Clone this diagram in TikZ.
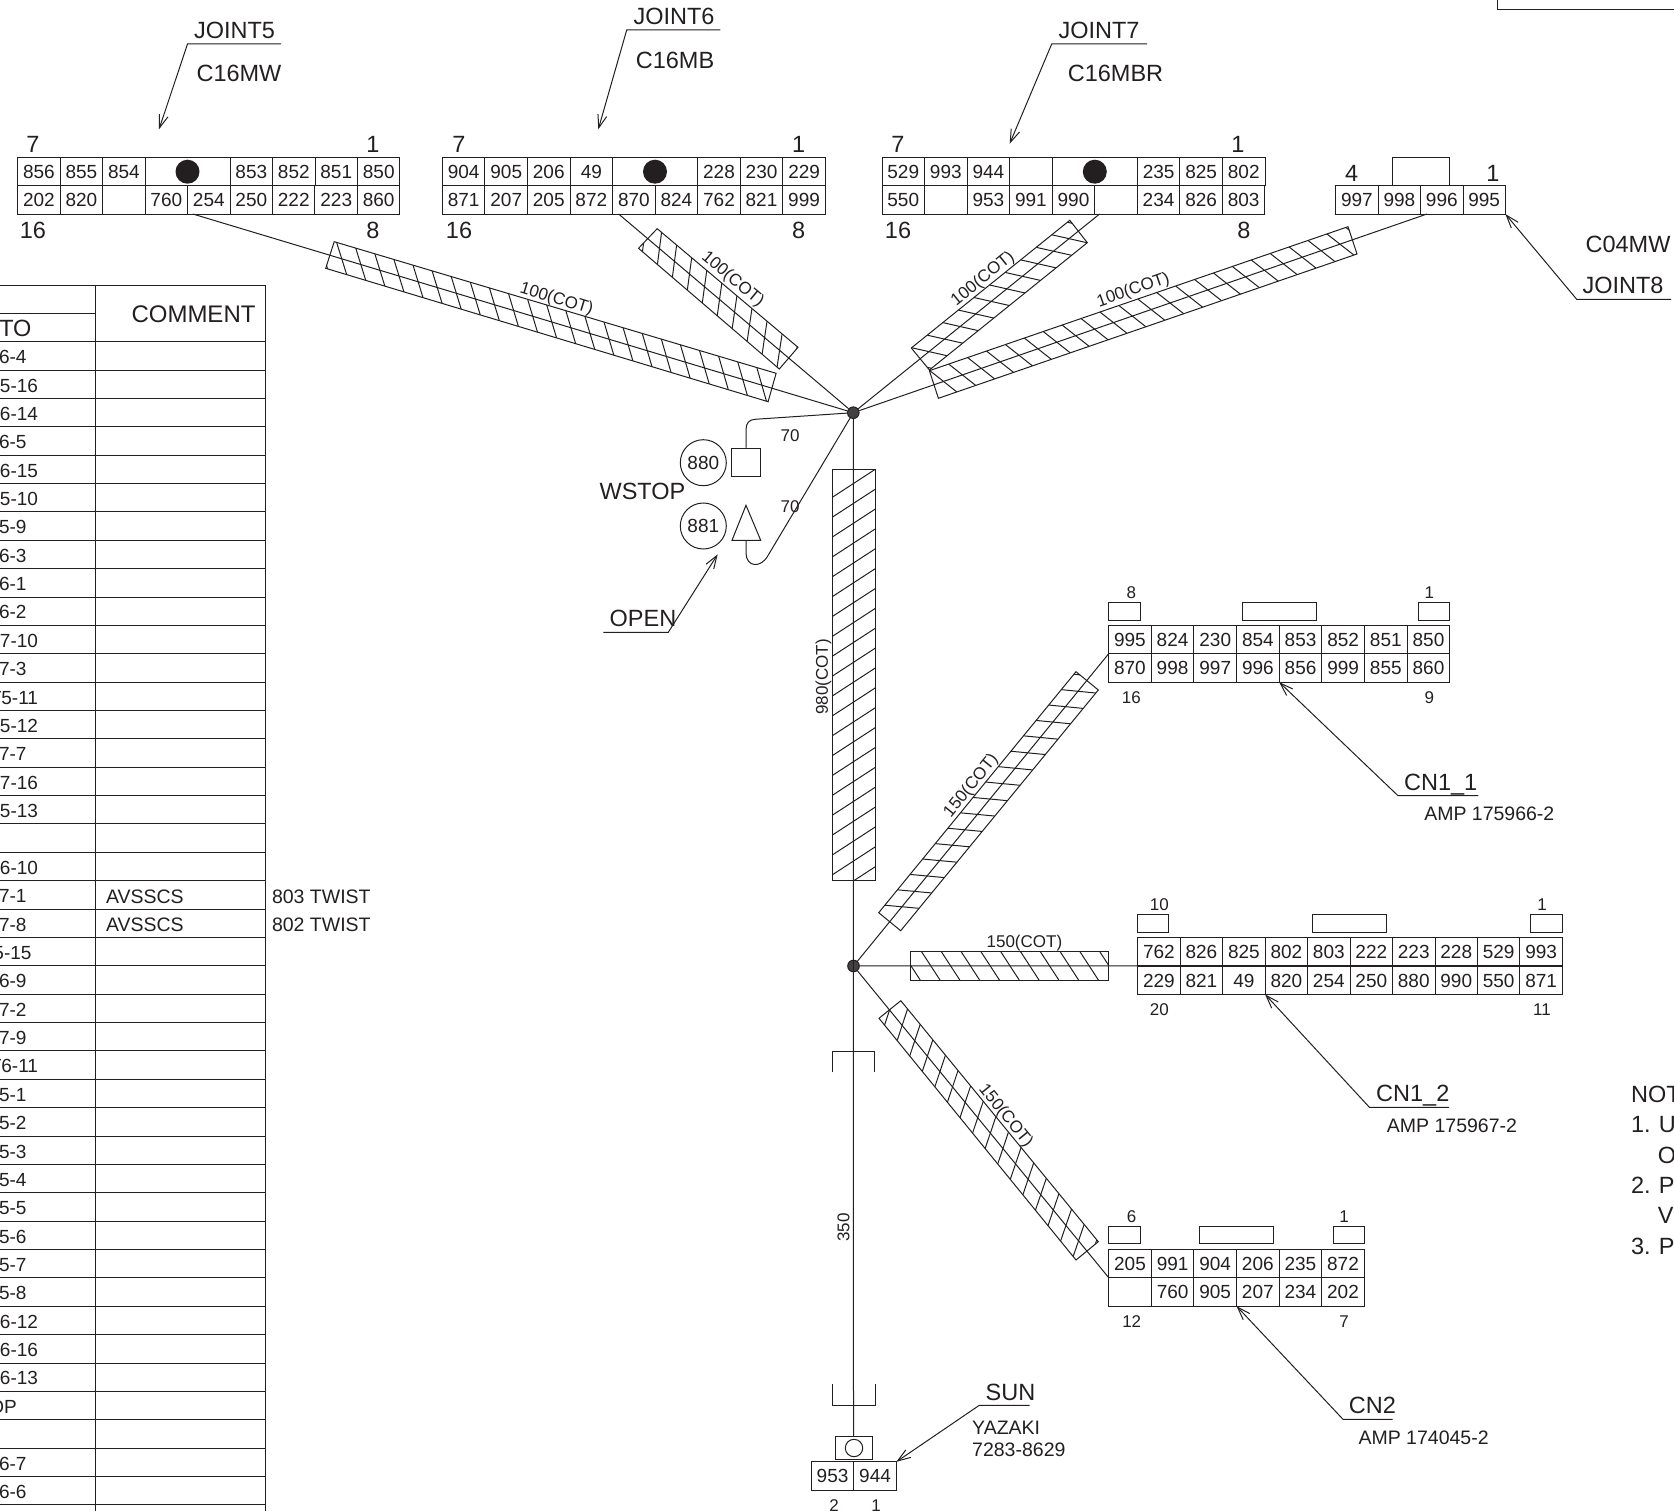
\documentclass[tikz,border=0pt]{standalone}
\usepackage{fontspec}
\setmainfont{Liberation Sans}
\usetikzlibrary{arrows.meta,calc}
\definecolor{inkline}{HTML}{231F20}
\tikzset{>={Straight Barb[length=13pt,width=9pt]}}
\tikzset{
  small/.style={inner sep=0pt,text height=12.2pt,text depth=0pt,font=\fontsize{17}{19}\selectfont},
  plain/.style={inner sep=0pt,text height=13.7pt,text depth=0pt,font=\fontsize{19}{21}\selectfont},
  part/.style={inner sep=0pt,text height=14pt,text depth=0pt,font=\fontsize{19.5}{21}\selectfont},
  title/.style={inner sep=0pt,text height=16.9pt,text depth=0pt,font=\fontsize{23.5}{25}\selectfont},
  cell/.style={plain,draw,outer sep=0pt,minimum height=28.35pt},
  hub/.style={circle,draw,fill=inkline!85,inner sep=0pt,minimum size=11.6pt}
}
\newcommand\connrow[5]{% prefix, left edge, centre y, width, texts
  \foreach \t [count=\k] in {#5}
    \node[cell,minimum width=#4 pt] (#1\k) at ({#2+(\k-0.5)*#4},#3) {\t};
}
\newcommand\sleeve[8]{% corners, last index, offset, step, skew
  \draw (#1)--(#2)--(#3)--(#4)--cycle;
  \begin{scope}
    \clip (#1)--(#2)--(#3)--(#4)--cycle;
    \foreach \i in {0,...,#5}
      \draw ($(#1)!{#6pt+\i*#7pt}!(#4)$) -- ($(#2)!{#6pt+\i*#7pt+(#8pt)}!(#3)$);
  \end{scope}
}
\begin{document}
\begin{tikzpicture}[x=1pt,y=-1pt,line width=1pt,color=inkline]
  \useasboundingbox (0,0) rectangle (1674,1511);

  \draw (1497,0) -- (1497,10) -- (1674,10);

  % table
  \draw (95.7,285.3) -- (95.7,1511);
  \draw (265.7,285.3) -- (265.7,1511);
  \draw (0,285.3) -- (265.7,285.3);
  \draw (0,313.3) -- (95.7,313.3);
  \foreach \r in {0,...,41}
    \draw (0,{341.7+\r*28.37}) -- (265.7,{341.7+\r*28.37});
  \node[title,anchor=east] (tabto) at (32,328.5) {TO};
  \node[title,font=\fontsize{24}{26}\selectfont] (tabcomment) at (193.5,314.5) {COMMENT};
  \foreach \r/\t/\e in {1/6-4/27,2/T5-16/38.5,3/T6-14/38.5,4/6-5/27,5/T6-15/38.5,6/T5-10/38.5,
    7/5-9/27,8/6-3/27,9/6-1/27,10/6-2/27,11/T7-10/38.5,12/7-3/27,13/T5-11/38.5,14/T5-12/38.5,
    15/7-7/27,16/T7-16/38.5,17/T5-13/38.5,19/T6-10/38.5,20/7-1/27,21/7-8/27,22/5-15/32,
    23/6-9/27,24/7-2/27,25/7-9/27,26/T6-11/38.5,27/5-1/27,28/5-2/27,29/5-3/27,30/5-4/27,
    31/5-5/27,32/5-6/27,33/5-7/27,34/5-8/27,35/T6-12/38.5,36/T6-16/38.5,37/T6-13/38.5,
    38/OP/17.3,40/6-7/27,41/6-6/27}
    \node[plain,anchor=east] (row\r) at (\e,{342.6+(\r-0.5)*28.37}) {\t};
  \node[part,anchor=west] (avs1) at (105.5,896) {AVSSCS};
  \node[part,anchor=west] (avs2) at (105.5,924.4) {AVSSCS};
  \node[part,anchor=west] (tw1) at (271.5,896) {803 TWIST};
  \node[part,anchor=west] (tw2) at (271.5,924.4) {802 TWIST};

  % JOINT5
  \connrow{j5t}{17.7}{171.5}{42.47}{856,855,854}
  \node[cell,minimum width=84.94pt] (j5gap) at (187.6,171.5) {};
  \connrow{j5r}{230.1}{171.5}{42.47}{853,852,851,850}
  \connrow{j5b}{17.7}{199.9}{42.47}{202,820,{},760,254,250,222,223,860}
  \fill (187.5,171.7) circle (12);
  \node[title] (j5n7) at (33,144) {7};
  \node[title] (j5n1) at (373,144) {1};
  \node[title] (j5n16) at (33,230) {16};
  \node[title] (j5n8) at (373,230) {8};
  \node[title] (j5name) at (234.5,30) {JOINT5};
  \node[title] (j5type) at (239,73.3) {C16MW};
  \coordinate (j5k) at (187.5,44);
  \coordinate (j5p) at (159,129.3);
  \draw[->] (281,44) -- (j5k) -- (j5p);

  % JOINT6
  \connrow{j6t}{442.4}{171.5}{42.55}{904,905,206,49}
  \node[cell,minimum width=85.1pt] (j6gap) at (655,171.5) {};
  \connrow{j6r}{697.75}{171.5}{42.55}{228,230,229}
  \connrow{j6b}{442.4}{199.9}{42.55}{871,207,205,872,870,824,762,821,999}
  \fill (655,171.7) circle (12);
  \node[title] (j6n7) at (459,144) {7};
  \node[title] (j6n1) at (798.6,144) {1};
  \node[title] (j6n16) at (459,230) {16};
  \node[title] (j6n8) at (798.6,230) {8};
  \node[title] (j6name) at (674,16) {JOINT6};
  \node[title] (j6type) at (675,60) {C16MB};
  \coordinate (j6k) at (626.7,30);
  \coordinate (j6p) at (598.3,129.3);
  \draw[->] (720.4,30) -- (j6k) -- (j6p);

  % JOINT7
  \connrow{j7t}{882}{171.5}{42.55}{529,993,944,{}}
  \node[cell,minimum width=85.1pt] (j7gap) at (1094.8,171.5) {};
  \connrow{j7r}{1137.35}{171.5}{42.55}{235,825,802}
  \connrow{j7b}{882}{199.9}{42.55}{550,{},953,991,990,{},234,826,803}
  \fill (1094.8,171.7) circle (12);
  \node[title] (j7n7) at (898,144) {7};
  \node[title] (j7n1) at (1238,144) {1};
  \node[title] (j7n16) at (898,230) {16};
  \node[title] (j7n8) at (1244,230) {8};
  \node[title] (j7name) at (1099,30) {JOINT7};
  \node[title] (j7type) at (1115.5,73.3) {C16MBR};
  \coordinate (j7k) at (1051.7,44);
  \coordinate (j7p) at (1009.7,143.7);
  \draw[->] (1147,44) -- (j7k) -- (j7p);

  % JOINT8
  \connrow{j8b}{1335.7}{199.9}{42.43}{997,998,996,995}
  \draw (1392.6,185.7) -- (1392.6,157.3) -- (1449.6,157.3) -- (1449.6,185.7);
  \node[title] (j8n4) at (1351.7,172.7) {4};
  \node[title] (j8n1) at (1493,172.7) {1};
  \node[title] (j8type) at (1628,244) {C04MW};
  \node[title] (j8name) at (1623,285) {JOINT8};
  \coordinate (j8k) at (1576.7,299.3);
  \draw[->] (1671,299.3) -- (j8k) -- (j8b4.south east);

  % hubs and wires
  \node[hub] (huba) at (853.3,412.7) {};
  \node[hub] (hubb) at (853.5,966) {};
  \coordinate (j5w) at (192.8,214);
  \coordinate (j6w) at (618.6,214);
  \coordinate (j7w) at (1099.6,214);
  \coordinate (j8w) at (1427,214);
  \draw (j5w) -- (huba);
  \draw (j6w) -- (huba);
  \draw (j7w) -- (huba);
  \draw (j8w) -- (huba);

  \coordinate (j5a) at (334.2,241.7);
  \coordinate (j5b) at (325.7,268.3);
  \coordinate (j5c) at (768.1,401.7);
  \coordinate (j5d) at (776.1,373.3);
  \sleeve{j5a}{j5b}{j5c}{j5d}{23}{-17.4}{19.93}{19.4}
  \coordinate (j6a) at (657.2,228.7);
  \coordinate (j6b) at (638.5,248.3);
  \coordinate (j6c) at (779.3,369);
  \coordinate (j6d) at (798,347.3);
  \sleeve{j6a}{j6b}{j6c}{j6d}{10}{-14}{19.7}{19.2}
  \coordinate (j7a) at (1069.8,220.3);
  \coordinate (j7b) at (1087.3,242.7);
  \coordinate (j7c) at (929.4,370);
  \coordinate (j7d) at (911.3,348);
  \sleeve{j7a}{j7b}{j7c}{j7d}{11}{3.1}{20}{-23}
  \coordinate (j8a) at (1348,226.7);
  \coordinate (j8b) at (1357,254);
  \coordinate (j8c) at (938.4,398.3);
  \coordinate (j8d) at (929.4,370.7);
  \sleeve{j8a}{j8b}{j8c}{j8d}{23}{2.3}{20}{-19}

  \node[small,rotate=-17] (j5cot) at (557,297.7) {100(COT)};
  \node[small,rotate=-40] (j6cot) at (733.8,278.3) {100(COT)};
  \node[small,rotate=39] (j7cot) at (982,277.5) {100(COT)};
  \node[small,rotate=19] (j8cot) at (1132.8,289) {100(COT)};

  % switches
  \node[plain,circle,draw,minimum size=46pt] (sw880) at (703.3,462.7) {880};
  \node[plain,circle,draw,minimum size=46pt] (sw881) at (703.3,526) {881};
  \node[draw,minimum size=28.5pt,inner sep=0pt] (swbox) at (746.2,462.5) {};
  \draw (746,505.3) -- (760.7,540.3) -- (732,540.3) -- cycle;
  \coordinate (swkink) at (768.3,555);
  \draw (swbox.north) -- (746,430) .. controls (746,423) and (749,419.7) .. (755,419.3) -- (huba);
  \draw (746,540.3) -- (746,553) .. controls (746,567) and (761,569) .. (swkink) -- (huba);
  \node[small] (sw70a) at (790,435) {70};
  \node[small] (sw70b) at (790,506) {70};
  \node[title] (wstop) at (642.5,491) {WSTOP};
  \node[title] (open) at (643,618.3) {OPEN};
  \coordinate (openk) at (668.3,632.3);
  \coordinate (openp) at (717.7,554.3);
  \draw[->] (603.3,632.3) -- (openk) -- (openp);

  % trunk
  \coordinate (suntop) at (853.5,1436.7);
  \draw (huba) -- (suntop);
  \coordinate (trka) at (875.3,469.3);
  \coordinate (trkb) at (832.3,469.3);
  \coordinate (trkc) at (832.3,880);
  \coordinate (trkd) at (875.3,880);
  \sleeve{trka}{trkb}{trkc}{trkd}{20}{0}{19.87}{28}
  \node[small,rotate=90] (trkcot) at (821.7,677) {980(COT)};
  \draw (832.4,1072.3) -- (832.4,1051) -- (874.8,1051) -- (874.8,1072.3);
  \draw (832.3,1384) -- (832.3,1405.3) -- (875.3,1405.3) -- (875.3,1384);
  \node[small,rotate=90] (trk350) at (843.3,1227.7) {350};

  % SUN
  \draw (835.3,1436.7) rectangle (872.3,1459);
  \draw (854,1448) circle (8.7);
  \connrow{sunc}{811.3}{1476}{42.5}{953,944}
  \node[small] (sunn2) at (834,1505) {2};
  \node[small] (sunn1) at (876,1505) {1};
  \node[title] (sunname) at (1010.5,1391.7) {SUN};
  \node[part,anchor=west] (sunmake) at (971.7,1427.3) {YAZAKI};
  \node[part,anchor=west] (sunpart) at (971.7,1449.3) {7283-8629};
  \coordinate (sunk) at (979.3,1405.3);
  \draw[->] (1029.7,1405.3) -- (sunk) -- (sunc2.north east);

  % CN1_1
  \connrow{cat}{1108.6}{639.6}{42.65}{995,824,230,854,853,852,851,850}
  \connrow{cab}{1108.6}{668}{42.65}{870,998,997,996,856,999,855,860}
  \draw (1108.6,602.3) rectangle (1140.3,620);
  \draw (1242,602.3) rectangle (1316,620);
  \draw (1418,602.3) rectangle (1449.7,620);
  \node[small] (can8) at (1131.4,592) {8};
  \node[small] (can1) at (1429.3,592) {1};
  \node[small] (can16) at (1131.4,697.3) {16};
  \node[small] (can9) at (1429.3,697.3) {9};
  \node[title] (caname) at (1440.7,781.7) {CN1\_1};
  \node[part] (capart) at (1489.3,813.3) {AMP 175966-2};
  \coordinate (cak) at (1398,795.7);
  \draw[->] (1478.3,795.7) -- (cak) -- (cab4.south east);
  \draw (hubb) -- (cab1.north west);
  \coordinate (caa) at (1076,671.7);
  \coordinate (cbb) at (1098.3,690);
  \coordinate (ccc) at (900.7,930.7);
  \coordinate (cdd) at (878.7,912.7);
  \sleeve{caa}{cbb}{ccc}{cdd}{15}{3.3}{19.9}{-19.3}
  \node[small,rotate=51] (cacot) at (970,785) {150(COT)};

  % CN1_2
  \connrow{cbt}{1137.7}{951.6}{42.47}{762,826,825,802,803,222,223,228,529,993}
  \connrow{cbbot}{1137.7}{980.2}{42.47}{229,821,49,820,254,250,880,990,550,871}
  \draw (1137.7,914.3) rectangle (1168.4,932.3);
  \draw (1312.8,914.3) rectangle (1386.9,932.3);
  \draw (1530.8,914.3) rectangle (1562.4,932.3);
  \node[small] (cbn10) at (1159.4,904.3) {10};
  \node[small] (cbn1) at (1542,904.3) {1};
  \node[small] (cbn20) at (1159.4,1009) {20};
  \node[small] (cbn11) at (1542,1009) {11};
  \node[title] (cbname) at (1412.8,1093.3) {CN1\_2};
  \node[part] (cbpart) at (1452,1125.7) {AMP 175967-2};
  \coordinate (cbk) at (1369.4,1107.3);
  \draw[->] (1449.2,1107.3) -- (cbk) -- (cbbot3.south east);
  \draw (hubb) -- (cbt1.south west);
  \coordinate (hsa) at (910.2,951);
  \coordinate (hsb) at (910.2,980);
  \coordinate (hsc) at (1108.9,980);
  \coordinate (hsd) at (1108.9,951);
  \sleeve{hsa}{hsb}{hsc}{hsd}{11}{-8.9}{19.8}{18.9}
  \node[small] (cbcot) at (1024.4,941.3) {150(COT)};

  % CN2
  \connrow{cct}{1108.7}{1263.5}{42.6}{205,991,904,206,235,872}
  \connrow{ccbot}{1108.7}{1291.9}{42.6}{{},760,905,207,234,202}
  \draw (1108.7,1226.7) rectangle (1140.3,1243.5);
  \draw (1199.5,1226.7) rectangle (1273.7,1243.5);
  \draw (1333,1226.7) rectangle (1364.4,1243.5);
  \node[small] (ccn6) at (1131.7,1216) {6};
  \node[small] (ccn1) at (1344,1216) {1};
  \node[small] (ccn12) at (1131.7,1321) {12};
  \node[small] (ccn7) at (1344,1321) {7};
  \node[title] (ccname) at (1372.4,1405) {CN2};
  \node[part] (ccpart) at (1423.6,1437.3) {AMP 174045-2};
  \coordinate (cck) at (1343,1419.3);
  \draw[->] (1392.5,1419.3) -- (cck) -- (ccbot3.south east);
  \draw (hubb) -- (cct1.south west);
  \coordinate (lsa) at (900.8,1000.7);
  \coordinate (lsb) at (879,1018.3);
  \coordinate (lsc) at (1076,1260);
  \coordinate (lsd) at (1098.3,1241.7);
  \sleeve{lsa}{lsb}{lsc}{lsd}{16}{-9.2}{19.9}{18}
  \node[small,rotate=-51] (cccot) at (1007,1115) {150(COT)};

  % notes
  \node[title,anchor=west] (notes) at (1630.6,1094) {NOT};
  \node[title,anchor=west] (note1) at (1630.6,1124.3) {1.};
  \node[title,anchor=west] (note1a) at (1658.4,1124.3) {U};
  \node[title,anchor=west] (note1b) at (1657.4,1155) {O};
  \node[title,anchor=west] (note2) at (1630.6,1185) {2.};
  \node[title,anchor=west] (note2a) at (1658.4,1185) {P};
  \node[title,anchor=west] (note2b) at (1657.4,1215) {V};
  \node[title,anchor=west] (note3) at (1630.6,1245.7) {3.};
  \node[title,anchor=west] (note3a) at (1658.4,1245.7) {P};
\end{tikzpicture}
\end{document}
